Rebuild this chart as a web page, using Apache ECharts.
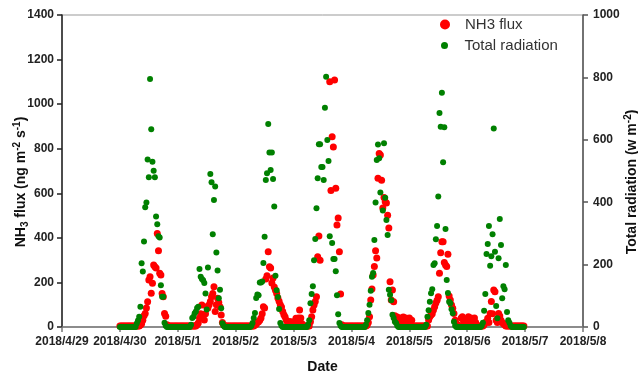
<!DOCTYPE html>
<html>
<head>
<meta charset="utf-8">
<script src="https://cdn.jsdelivr.net/npm/echarts@6/dist/echarts.min.js"></script>
<style>
html,body{margin:0;padding:0;background:#fff;}
#chart{width:638px;height:376px;}
</style>
</head>
<body>
<div id="chart"></div>
<script>
// Tick labels of the date axis (one per day, 2018/4/29 .. 2018/5/8)
const dateLabels = ['2018/4/29','2018/4/30','2018/5/1','2018/5/2','2018/5/3','2018/5/4','2018/5/5','2018/5/6','2018/5/7','2018/5/8'];
const N = null;
// Half-hourly NH3 flux (ng m-2 s-1), 48 values per day starting 00:00
const flux_0430 = [5,5,5,5,5,5,5,5,5,5,5,5,5,5,5,5,5,
  9,15,30,50,61,85,113,211,226,151,196,278,270,265,420,342,241,233,150,136,61,48,10,
  5,5,5,5,5,5,5,5];
const flux_0501 = [5,5,5,5,5,5,5,5,5,5,5,5,5,5,5,5,
  10,18,40,60,99,54,31,60,91,85,100,114,136,150,181,70,100,129,110,91,54,20,10,
  5,5,5,5,5,5,5,5,5];
const flux_0502 = [5,5,5,5,5,5,5,5,5,5,5,5,5,5,5,5,
  9,12,20,24,
  30,40,60,91,85,215,230,338,270,265,197,220,180,165,150,130,115,100,90,70,55,45,30,20,20,25,10,15];
const flux_0503 = [24,20,39,24,40,76,40,15,
  5,5,5,5,5,5,
  24,46,76,99,114,136,315,408,300,
  N,N,N,N,N,N,N,
  1100,612,854,808,1108,623,458,489,338,148,10,
  5,5,5,5,5,5,5];
const flux_0504 = [5,5,5,5,5,5,5,5,5,5,5,5,5,
  8,20,46,121,170,233,271,342,310,667,779,772,659,534,581,562,556,502,444,203,121,166,113,50,30,45,20,35,40,25,45,30,40,20,35];
const flux_0505 = [40,20,30,
  5,5,5,5,5,5,5,5,5,5,5,5,5,
  31,46,54,60,76,91,108,120,136,241,333,383,383,289,278,271,327,139,121,99,84,61,30,15,10,
  5,5,40,46,25,35,20];
const flux_0506 = [30,46,25,40,35,25,40,20,
  5,5,5,5,5,5,
  10,20,24,39,20,61,114,60,166,158,30,20,61,49,30,20,15,10,
  5,5,5,5,5,5,5,5,5,5,5,5,5,5,5,5];

// Half-hourly total radiation (W m-2), 48 values per day starting 00:00
const rad_0430 = [0,0,0,0,0,0,0,0,0,0,0,0,0,0,
  11,21,33,65,204,178,274,384,399,537,480,795,634,530,501,480,354,329,291,287,134,97,97,14,4,
  0,0,0,0,0,0,0,0,0];
const rad_0501 = [0,0,0,0,0,0,0,0,0,0,0,
  7,29,33,44,50,61,65,186,161,154,150,141,107,56,191,N,490,464,297,407,450,239,181,92,119,60,12,4,
  0,0,0,0,0,0,0,0,0];
const rad_0502 = [0,0,0,0,0,0,0,0,0,0,0,0,0,
  4,13,29,45,93,104,102,143,143,146,205,289,471,493,651,559,503,559,474,386,164,118,96,58,13,4,
  0,0,0,0,0,0,0,0,0];
const rad_0503 = [0,0,0,0,0,0,0,0,0,0,0,0,
  7,22,76,106,131,214,282,381,477,586,586,513,513,471,703,802,599,532,291,N,269,218,218,179,102,41,13,4,
  0,0,0,0,0,0,0,0];
const rad_0504 = [0,0,0,0,0,0,0,0,0,0,0,0,
  7,22,45,71,116,161,173,279,399,535,585,541,431,N,373,589,414,343,295,119,103,86,39,29,17,13,4,
  0,0,0,0,0,0,0,0,0];
const rad_0505 = [0,0,0,0,0,0,0,0,0,0,0,0,0,0,
  7,33,54,81,108,121,199,204,281,324,418,686,642,751,528,640,314,151,109,81,76,57,44,17,4,
  0,0,0,0,0,0,0,0,0];
const rad_0506 = [0,0,0,0,0,0,0,0,0,0,0,0,
  4,14,52,106,234,266,324,196,227,297,636,241,67,28,220,346,263,92,131,121,199,48,22,14,4,
  0,0,0,0,0,0,0,0,0,0,0];

const fluxDays = [flux_0430, flux_0501, flux_0502, flux_0503, flux_0504, flux_0505, flux_0506];
const radDays = [rad_0430, rad_0501, rad_0502, rad_0503, rad_0504, rad_0505, rad_0506];
const firstDayIndex = 1; // 2018/4/30 is the second tick

function toPoints(days) {
  const out = [];
  days.forEach((arr, d) => {
    arr.forEach((v, i) => {
      if (v !== null) out.push([firstDayIndex + d + i / arr.length, v]);
    });
  });
  return out;
}

const FF = '"Liberation Sans", Arial, sans-serif';
const labelStyle = { fontFamily: FF, fontSize: 12, fontWeight: 'bold', color: '#222' };
const nameRich = {
  a: { fontFamily: FF, fontSize: 14, fontWeight: 'bold', color: '#111', lineHeight: 18 },
  s: { fontFamily: FF, fontSize: 10, fontWeight: 'bold', color: '#111', lineHeight: 10, verticalAlign: 'bottom' },
  p: { fontFamily: FF, fontSize: 10, fontWeight: 'bold', color: '#111', lineHeight: 10, verticalAlign: 'top' }
};

const chart = echarts.init(document.getElementById('chart'), null, { renderer: 'canvas' });
chart.setOption({
  animation: false,
  backgroundColor: '#fff',
  grid: { left: 62, right: 55, top: 15, bottom: 49, show: true, borderColor: '#999', borderWidth: 1, outerBoundsMode: 'none' },
  legend: [
    { data: ['NH3 flux'], left: 440, top: 17, itemWidth: 30, itemHeight: 10, padding: 0,
      textStyle: { fontFamily: FF, fontSize: 15, color: '#333' } },
    { data: ['Total radiation'], left: 441, top: 38, itemWidth: 30, itemHeight: 7, padding: 0,
      textStyle: { fontFamily: FF, fontSize: 15, color: '#333' } }
  ],
  xAxis: {
    type: 'value', min: 0, max: 9, interval: 1,
    name: 'Date', nameLocation: 'middle', nameGap: 33, nameMoveOverlap: false,
    nameTextStyle: { fontFamily: FF, fontSize: 14, fontWeight: 'bold', color: '#111' },
    axisLine: { show: true, lineStyle: { color: '#777', width: 1.5 } },
    axisTick: { show: true, length: 5, lineStyle: { color: '#777', width: 1.5 } },
    axisLabel: Object.assign({ margin: 9, formatter: v => dateLabels[Math.round(v)] }, labelStyle),
    splitLine: { show: false }
  },
  yAxis: [
    {
      type: 'value', min: 0, max: 1400, interval: 200, position: 'left',
      name: '{a|NH}{s|3}{a| flux (ng m}{p|-2}{a| s}{p|-1}{a|)}',
      nameLocation: 'middle', nameRotate: 90, nameGap: 32, nameMoveOverlap: false,
      nameTextStyle: { rich: nameRich, padding: [0, 22, 0, 0] },
      axisLine: { show: true, lineStyle: { color: '#222', width: 1.5 } },
      axisTick: { show: true, length: 5, lineStyle: { color: '#222', width: 1.5 } },
      axisLabel: Object.assign({ margin: 8, formatter: v => String(v) }, labelStyle),
      splitLine: { show: false }
    },
    {
      type: 'value', min: 0, max: 1000, interval: 200, position: 'right',
      name: '{a|Total radiation (w m}{p|-2}{a|)}',
      nameLocation: 'middle', nameRotate: 90, nameGap: 40, nameMoveOverlap: false,
      nameTextStyle: { rich: nameRich, padding: [0, 22, 0, 0] },
      axisLine: { show: true, lineStyle: { color: '#555', width: 1.5 } },
      axisTick: { show: true, length: 5, lineStyle: { color: '#555', width: 1.5 } },
      axisLabel: Object.assign({ margin: 10, formatter: v => String(v) }, labelStyle),
      splitLine: { show: false }
    }
  ],
  series: [
    { name: 'NH3 flux', type: 'scatter', yAxisIndex: 0, symbol: 'circle', symbolSize: 7,
      itemStyle: { color: '#ff0000', opacity: 1 }, data: toPoints(fluxDays) },
    { name: 'Total radiation', type: 'scatter', yAxisIndex: 1, symbol: 'circle', symbolSize: 6,
      itemStyle: { color: '#008000', opacity: 1 }, data: toPoints(radDays) }
  ]
});
</script>
</body>
</html>
